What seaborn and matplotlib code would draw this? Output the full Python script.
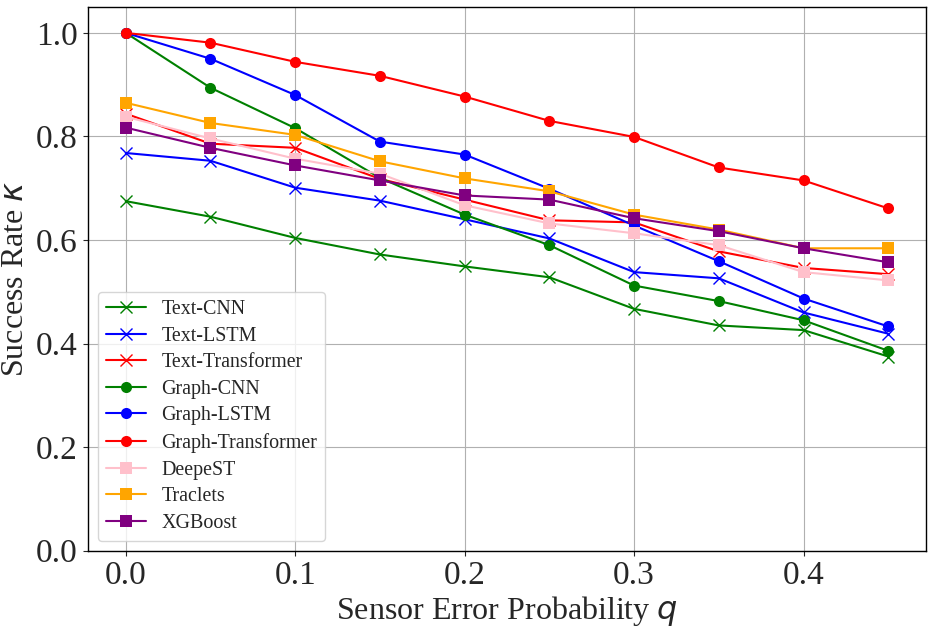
import pandas as pd
import seaborn as sns
import matplotlib
matplotlib.use("Agg")
import matplotlib.pyplot as plt

# error probability q
q = [0.0, 0.05, 0.1, 0.15, 0.2, 0.25, 0.3, 0.35, 0.4, 0.45]

text_cnn = [0.675, 0.645, 0.604, 0.572, 0.549, 0.528, 0.467, 0.435, 0.426, 0.375]
text_lstm = [0.768, 0.753, 0.701, 0.676, 0.640, 0.603, 0.538, 0.526, 0.460, 0.419]
text_transformer = [0.844, 0.786, 0.778, 0.718, 0.678, 0.638, 0.634, 0.578, 0.546, 0.534]
graph_cnn = [1.0, 0.894, 0.816, 0.720, 0.649, 0.590, 0.512, 0.482, 0.445, 0.386]
graph_lstm = [1.0, 0.950, 0.880, 0.790, 0.765, 0.699, 0.628, 0.559, 0.487, 0.433]
graph_transformer = [1.0, 0.981, 0.944, 0.917, 0.877, 0.830, 0.799, 0.740, 0.715, 0.661]
deepest = [0.838, 0.796, 0.757, 0.728, 0.667, 0.632, 0.613, 0.590, 0.538, 0.522]
traclets = [0.865, 0.826, 0.803, 0.752, 0.719, 0.694, 0.649, 0.620, 0.584, 0.584]
xgboost = [0.817, 0.778, 0.744, 0.715, 0.686, 0.678, 0.642, 0.617, 0.584, 0.557]

series = [
    ("Text-CNN", text_cnn, "green", "x"),
    ("Text-LSTM", text_lstm, "blue", "x"),
    ("Text-Transformer", text_transformer, "red", "x"),
    ("Graph-CNN", graph_cnn, "green", "o"),
    ("Graph-LSTM", graph_lstm, "blue", "o"),
    ("Graph-Transformer", graph_transformer, "red", "o"),
    ("DeepeST", deepest, "pink", "s"),
    ("Traclets", traclets, "orange", "s"),
    ("XGBoost", xgboost, "purple", "s"),
]

sns.set_style("ticks")
plt.rcParams["font.family"] = ["Liberation Serif", "DejaVu Sans"]
plt.rcParams["mathtext.fontset"] = "dejavusans"

fig, ax = plt.subplots(figsize=(9.32, 6.33), dpi=100)

for name, vals, color, marker in series:
    df = pd.DataFrame({"q": q, "rate": vals})
    sns.lineplot(data=df, x="q", y="rate", ax=ax, color=color, marker=marker,
                 markersize=8, linewidth=1.5, label=name,
                 markeredgecolor=color, markeredgewidth=1.0 if marker == "x" else 0)

ax.set_ylim(0, 1.05)
ax.set_xticks([0.0, 0.1, 0.2, 0.3, 0.4])
ax.set_yticks([0.0, 0.2, 0.4, 0.6, 0.8, 1.0])
ax.tick_params(labelsize=24)
ax.set_xlabel("Sensor Error Probability $q$", fontsize=23, labelpad=2)
ax.set_ylabel(r"Success Rate $\kappa$", fontsize=23, labelpad=4)
ax.grid(True, color="#b0b0b0", linewidth=0.8)
for s in ax.spines.values():
    s.set_color("black")
    s.set_linewidth(1.0)

ax.legend(loc="lower left", fontsize=14.4, frameon=True, labelspacing=0.38)

fig.subplots_adjust(left=0.094, right=0.994, bottom=0.13, top=0.989)
fig.savefig("out.png", dpi=100)
